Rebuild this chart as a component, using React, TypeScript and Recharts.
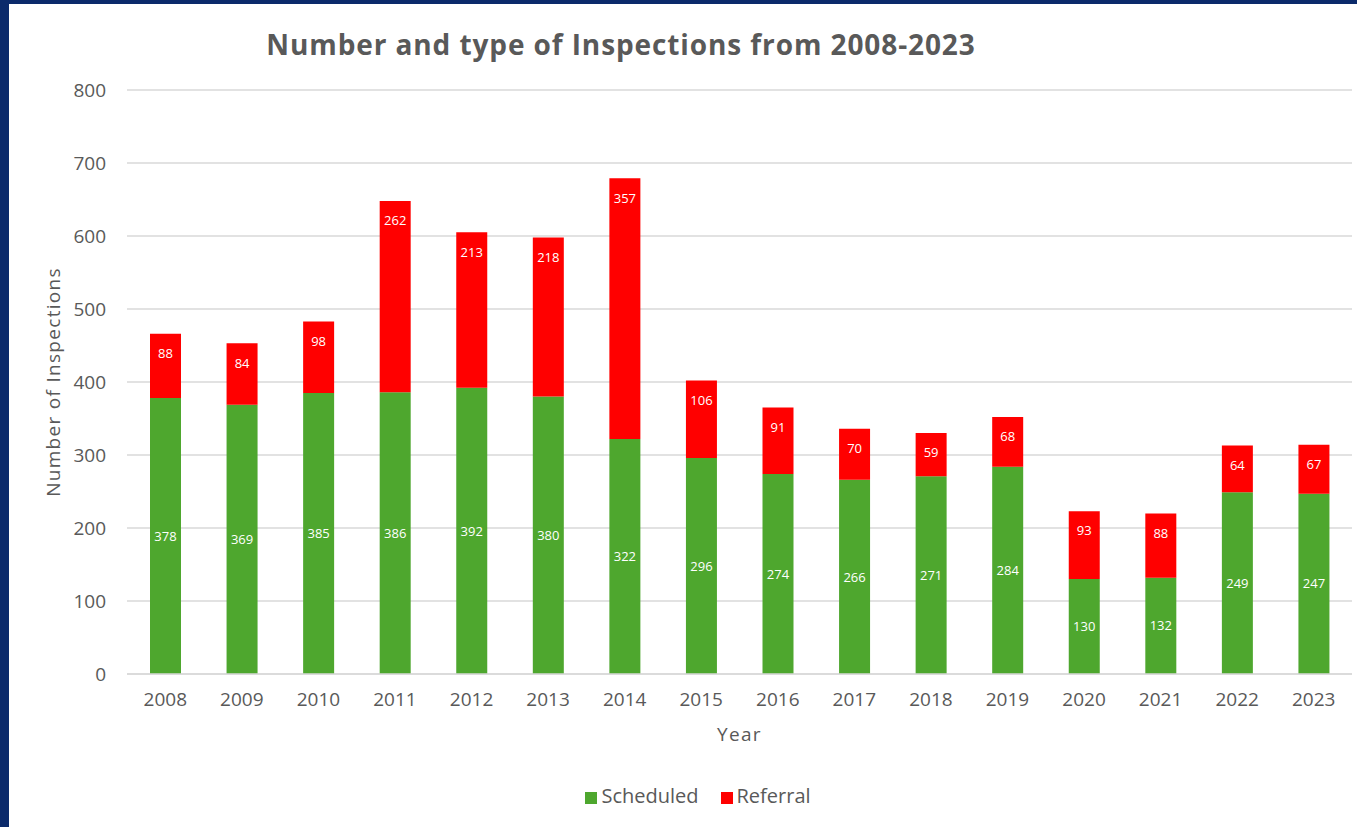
import React from "react";
import { BarChart, Bar, XAxis, YAxis, CartesianGrid, Legend, LabelList } from "recharts";

const years = ["2008", "2009", "2010", "2011", "2012", "2013", "2014", "2015", "2016", "2017", "2018", "2019", "2020", "2021", "2022", "2023"];
const scheduled = [378, 369, 385, 386, 392, 380, 322, 296, 274, 266, 271, 284, 130, 132, 249, 247];
const referral = [88, 84, 98, 262, 213, 218, 357, 106, 91, 70, 59, 68, 93, 88, 64, 67];
const yTicks = [0, 100, 200, 300, 400, 500, 600, 700, 800];
const seriesOrder = ["Scheduled", "Referral"];

const data = years.map((year, i) => ({ year, Scheduled: scheduled[i], Referral: referral[i] }));

const font = "'Open Sans', 'Liberation Sans', Arial, sans-serif";
const gray = "#595959";

const App = () => {
  return (
    <div style={{ position: "fixed", left: 0, top: 0, width: 1357, height: 827, background: "#0b2a6b", overflow: "hidden", fontFamily: font }}>
      <div style={{ position: "absolute", left: 9, top: 4, right: 0, bottom: 0, background: "#fff" }} />
      <div style={{ position: "absolute", left: 121, width: 1000, top: 25, textAlign: "center", fontSize: 28, fontWeight: "bold", color: gray, letterSpacing: 0.9 }}>
        Number and type of Inspections from 2008-2023
      </div>
      <div style={{ position: "absolute", left: 0, top: 0 }}>
        <BarChart width={1357} height={827} data={data} margin={{ top: 90, right: 5, left: 30, bottom: 18 }}>
          <CartesianGrid vertical={false} stroke="#d9d9d9" strokeWidth={1.5} />
          <XAxis
            dataKey="year"
            height={108}
            tickLine={false}
            axisLine={{ stroke: "#d9d9d9", strokeWidth: 1.5 }}
            tickMargin={13}
            tick={{ fill: gray, fontSize: 19, fontFamily: font }}
            label={{ value: "Year", position: "insideBottom", offset: 41, fill: gray, fontSize: 19, fontFamily: font, letterSpacing: 1.3 }}
          />
          <YAxis
            width={97}
            domain={[0, 800]}
            ticks={yTicks}
            tickLine={false}
            axisLine={false}
            tickMargin={15}
            tick={{ fill: gray, fontSize: 19, fontFamily: font }}
            label={{ value: "Number of Inspections", angle: -90, position: "insideLeft", offset: 23, fill: gray, fontSize: 19, fontFamily: font, letterSpacing: 1.3, style: { textAnchor: "middle" } }}
          />
          <Legend
            verticalAlign="bottom"
            iconType="square"
            iconSize={12}
            itemSorter={(item: any) => seriesOrder.indexOf(item.value)}
            wrapperStyle={{ left: 509, width: 400, fontSize: 20, fontFamily: font }}
            formatter={(value) => <span style={{ color: gray, marginRight: 12 }}>{value}</span>}
          />
          <Bar dataKey="Scheduled" stackId="a" fill="#4ea72e" barSize={31} isAnimationActive={false}>
            <LabelList dataKey="Scheduled" position="center" fill="#fff" fontSize={13} fontFamily={font} />
          </Bar>
          <Bar dataKey="Referral" stackId="a" fill="#ff0000" barSize={31} isAnimationActive={false}>
            <LabelList dataKey="Referral" position="insideTop" offset={15} fill="#fff" fontSize={13} fontFamily={font} />
          </Bar>
        </BarChart>
      </div>
    </div>
  );
};

export default App;
